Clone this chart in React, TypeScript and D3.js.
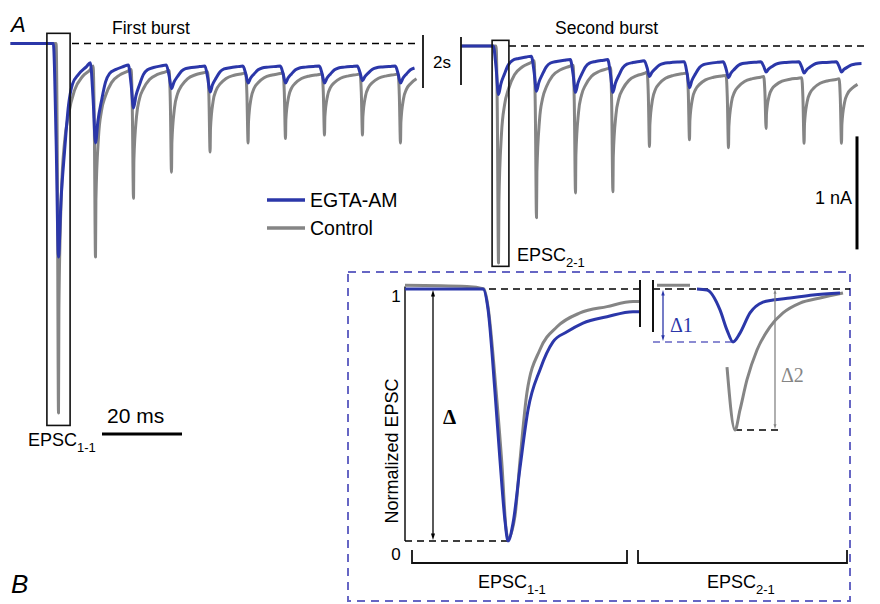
import React from "react";
import * as d3 from "d3";

type Pt = [number, number];

// peak times of the EPSCs in each burst, ms from the first peak
const burst1Times = [0, 9.25, 18.75, 28.25, 37.9, 47.4, 56.75, 66.5, 76, 85.5];
const burst2Times = [0, 9.5, 19.25, 28.6, 37.75, 47.75, 57.5, 66.9, 76.4, 85.75];

// peak amplitudes, nA
const ctrlPeaks1 = [3.27, 1.89, 1.37, 1.14, 0.96, 0.88, 0.84, 0.81, 0.81, 0.88];
const egtaPeaks1 = [1.89, 0.88, 0.57, 0.4, 0.43, 0.35, 0.35, 0.35, 0.33, 0.35];
const ctrlPeaks2 = [1.92, 1.52, 1.3, 1.29, 0.89, 0.83, 0.9, 0.73, 0.86, 0.86];
const egtaPeaks2 = [0.43, 0.4, 0.41, 0.41, 0.27, 0.37, 0.28, 0.23, 0.24, 0.23];

// level each EPSC decays back to before the next one, nA
const ctrlRest1 = [0.2, 0.23, 0.24, 0.25, 0.26, 0.26, 0.27, 0.27, 0.27, 0.27];
const egtaRest1 = [0.17, 0.19, 0.19, 0.2, 0.2, 0.2, 0.2, 0.2, 0.2, 0.2];
const ctrlRest2 = [0.13, 0.17, 0.19, 0.23, 0.24, 0.26, 0.27, 0.28, 0.29, 0.3];
const egtaRest2 = [0.09, 0.12, 0.12, 0.13, 0.14, 0.14, 0.14, 0.14, 0.14, 0.15];

// EPSC waveform: [ms from peak, fraction of peak]
const ctrlShape: Pt[] = [[-0.6, 0], [-0.3, 0.3], [0, 1], [0.1, 0.7], [0.75, 0.36], [1.5, 0.22], [2.5, 0.14], [4, 0.07], [6, 0.03], [8, 0.01]];
const egtaShape: Pt[] = [[-1.3, 0], [-0.6, 0.45], [0, 1], [0.6, 0.72], [1.5, 0.46], [2.5, 0.22], [3.5, 0.11], [5, 0.06], [7, 0.02], [8.5, 0]];

// panel B, normalised EPSCs: [ms from peak, normalised amplitude]
const egtaB1: Pt[] = [[-5.15, 1], [-1.25, 1], [-1.0, 0.92], [-0.65, 0.59], [-0.4, 0.32], [-0.15, 0.08], [0, 0], [0.25, 0.07], [0.6, 0.29], [1.0, 0.52], [1.6, 0.68], [2.25, 0.79], [2.95, 0.83], [3.75, 0.865], [4.95, 0.89], [6.25, 0.91], [6.6, 0.91]];
const ctrlB1: Pt[] = [[-5.15, 1.015], [-2.05, 1.01], [-1.2, 1], [-1.0, 0.93], [-0.6, 0.6], [-0.3, 0.3], [-0.1, 0.05], [0, 0.01], [0.35, 0.1], [0.6, 0.32], [0.95, 0.59], [1.6, 0.76], [2.45, 0.85], [3.6, 0.905], [4.95, 0.93], [6.25, 0.95], [6.6, 0.95]];
const egtaB2: Pt[] = [[-1.8, 1], [-1.3, 0.996], [-0.65, 0.917], [-0.3, 0.837], [0, 0.79], [0.35, 0.825], [0.85, 0.905], [1.5, 0.948], [2.0, 0.956], [2.85, 0.964], [4.0, 0.976], [5.35, 0.984]];
const ctrlB2Base: Pt[] = [[-3.8, 1.015], [-2.15, 1.015]];
const ctrlB2: Pt[] = [[-0.3, 0.69], [0.1, 0.44], [0.35, 0.52], [0.7, 0.64], [1.2, 0.758], [1.85, 0.85], [2.5, 0.905], [3.35, 0.944], [4.35, 0.964], [5.5, 0.984]];

const BLUE = "#2b37a9";
const GRAY = "#858585";
const FRAME = "#6666c4";
const SANS = "'Liberation Sans', Arial, sans-serif";
const SERIF = "'Liberation Serif', 'Times New Roman', serif";

function burstTrace(times: number[], peaks: number[], rests: number[], shape: Pt[], t0: number, t1: number): Pt[] {
  const pts: Pt[] = [[t0, 0]];
  times.forEach((t, i) => {
    const from = i === 0 ? 0 : rests[i - 1];
    const nextStart = i < times.length - 1 ? times[i + 1] + shape[0][0] : t1 + 0.01;
    shape.forEach(([dt, f]) => {
      const tt = t + dt;
      if (tt >= nextStart || tt > t1) return;
      const base = dt <= 0 ? from : rests[i];
      pts.push([tt, base + (peaks[i] - base) * f]);
    });
  });
  return pts;
}

function Arrow({ x, y1, y2, color, head = 4 }: { x: number; y1: number; y2: number; color: string; head?: number }) {
  return (
    <g stroke={color} fill={color}>
      <line x1={x} x2={x} y1={y1 + head} y2={y2 - head} strokeWidth={1.3} />
      <path d={`M${x},${y1} L${x - head / 2},${y1 + head * 1.6} L${x + head / 2},${y1 + head * 1.6} Z`} stroke="none" />
      <path d={`M${x},${y2} L${x - head / 2},${y2 - head * 1.6} L${x + head / 2},${y2 - head * 1.6} Z`} stroke="none" />
    </g>
  );
}

export default function App() {
  // panel A scales: ms -> px, nA -> px (downward currents)
  const x1 = d3.scaleLinear().domain([0, 1]).range([58.5, 62.5]);
  const x2 = d3.scaleLinear().domain([0, 1]).range([498.5, 502.5]);
  const y1 = d3.scaleLinear().domain([0, 1]).range([43.5, 156.5]);
  const y2 = d3.scaleLinear().domain([0, 1]).range([46, 159]);

  const line1 = d3.line<Pt>().x((d) => x1(d[0])).y((d) => y1(d[1])).curve(d3.curveMonotoneX);
  const line2 = d3.line<Pt>().x((d) => x2(d[0])).y((d) => y2(d[1])).curve(d3.curveMonotoneX);

  const ctrl1 = burstTrace(burst1Times, ctrlPeaks1, ctrlRest1, ctrlShape, -12, 90.4);
  const egta1 = burstTrace(burst1Times, egtaPeaks1, egtaRest1, egtaShape, -12, 90.4);
  const ctrl2 = burstTrace(burst2Times, ctrlPeaks2, ctrlRest2, ctrlShape, -9.4, 91.6);
  const egta2 = burstTrace(burst2Times, egtaPeaks2, egtaRest2, egtaShape, -9.4, 91.6);

  // panel B scales
  const xb1 = d3.scaleLinear().domain([0, 1]).range([508, 528]);
  const xb2 = d3.scaleLinear().domain([0, 1]).range([733, 753]);
  const yb = d3.scaleLinear().domain([0, 1]).range([541, 289]);
  const lineB1 = d3.line<Pt>().x((d) => xb1(d[0])).y((d) => yb(d[1])).curve(d3.curveMonotoneX);
  const lineB2 = d3.line<Pt>().x((d) => xb2(d[0])).y((d) => yb(d[1])).curve(d3.curveMonotoneX);

  const egtaMin2 = d3.min(egtaB2, (d) => d[1]) as number;
  const ctrlMin2 = d3.min(ctrlB2, (d) => d[1]) as number;
  const ctrlPeakT2 = ctrlB2.find((d) => d[1] === ctrlMin2)![0];
  const egtaPeakT2 = egtaB2.find((d) => d[1] === egtaMin2)![0];

  const dash = "7 5";

  return (
    <svg width={864} height={596} style={{ display: "block" }} viewBox="8 8 864 596" fontFamily={SANS}>
      <rect x={0} y={0} width={880} height={604} fill="#fff" />
      {/* panel A */}
      <text x={11} y={32} fontSize={22} fontStyle="italic">A</text>
      <text x={112} y={34} fontSize={17.5}>First burst</text>
      <text x={555} y={34} fontSize={17.5}>Second burst</text>

      <line x1={72} x2={420} y1={y1(0)} y2={y1(0)} stroke="#000" strokeWidth={1.5} strokeDasharray={dash} />
      <line x1={509} x2={865} y1={y2(0)} y2={y2(0)} stroke="#000" strokeWidth={1.5} strokeDasharray={dash} />

      <path d={line1(ctrl1) ?? ""} fill="none" stroke={GRAY} strokeWidth={3} strokeLinejoin="round" />
      <path d={line1(egta1) ?? ""} fill="none" stroke={BLUE} strokeWidth={3} strokeLinejoin="round" />
      <path d={line2(ctrl2) ?? ""} fill="none" stroke={GRAY} strokeWidth={3} strokeLinejoin="round" />
      <path d={line2(egta2) ?? ""} fill="none" stroke={BLUE} strokeWidth={3} strokeLinejoin="round" />

      {/* boxes around EPSC1-1 and EPSC2-1 */}
      <rect x={x1(-2.9)} y={y1(-0.09)} width={x1(2.9) - x1(-2.9)} height={y1(3.38) - y1(-0.09)} fill="none" stroke="#111" strokeWidth={1.6} />
      <rect x={x2(-1.6)} y={y2(-0.05)} width={x2(2.6) - x2(-1.6)} height={y2(1.95) - y2(-0.05)} fill="none" stroke="#111" strokeWidth={1.6} />

      <text x={28} y={446} fontSize={18}>EPSC<tspan fontSize={13} dy={6}>1-1</tspan></text>
      <text x={517} y={261} fontSize={18}>EPSC<tspan fontSize={13} dy={6}>2-1</tspan></text>

      {/* 2 s gap marks */}
      <line x1={423} x2={423} y1={35} y2={88} stroke="#111" strokeWidth={1.8} />
      <line x1={461} x2={461} y1={37} y2={85} stroke="#111" strokeWidth={1.8} />
      <text x={433} y={68} fontSize={17}>2s</text>

      {/* scale bars */}
      <line x1={857} x2={857} y1={y2(0.8)} y2={y2(1.8)} stroke="#000" strokeWidth={3} />
      <text x={852} y={204} fontSize={18} textAnchor="end">1 nA</text>
      <line x1={102} x2={102 + (x1(20) - x1(0))} y1={434} y2={434} stroke="#000" strokeWidth={3} />
      <text x={107} y={423} fontSize={21}>20 ms</text>

      {/* legend */}
      <line x1={267} x2={305} y1={200} y2={200} stroke={BLUE} strokeWidth={3.5} />
      <text x={310} y={207} fontSize={19.5}>EGTA-AM</text>
      <line x1={267} x2={305} y1={228} y2={228} stroke={GRAY} strokeWidth={3.5} />
      <text x={310} y={235} fontSize={19.5}>Control</text>

      {/* panel B */}
      <text x={11} y={593} fontSize={26} fontStyle="italic">B</text>
      <rect x={348} y={272} width={502} height={329} fill="none" stroke={FRAME} strokeWidth={2} strokeDasharray="8 6" />

      <line x1={405} x2={405} y1={yb(1.01)} y2={yb(0)} stroke="#111" strokeWidth={1.5} />
      <text x={396} y={302} fontSize={17} textAnchor="middle">1</text>
      <text x={396} y={560} fontSize={17} textAnchor="middle">0</text>
      <text transform="translate(398,451) rotate(-90)" fontSize={18} textAnchor="middle">Normalized EPSC</text>

      <line x1={405} x2={640} y1={yb(1)} y2={yb(1)} stroke="#000" strokeWidth={1.5} strokeDasharray={dash} />
      <line x1={405} x2={xb1(0)} y1={yb(0)} y2={yb(0)} stroke="#000" strokeWidth={1.5} strokeDasharray={dash} />
      <line x1={653} x2={850} y1={yb(1)} y2={yb(1)} stroke="#000" strokeWidth={1.5} strokeDasharray={dash} />
      <line x1={653} x2={xb2(egtaPeakT2)} y1={yb(egtaMin2)} y2={yb(egtaMin2)} stroke={FRAME} strokeWidth={1.5} strokeDasharray={dash} />
      <line x1={xb2(ctrlPeakT2)} x2={778} y1={yb(ctrlMin2)} y2={yb(ctrlMin2)} stroke="#000" strokeWidth={1.5} strokeDasharray={dash} />

      <path d={lineB1(ctrlB1) ?? ""} fill="none" stroke={GRAY} strokeWidth={3} />
      <path d={lineB1(egtaB1) ?? ""} fill="none" stroke={BLUE} strokeWidth={3} />
      <path d={lineB2(ctrlB2Base) ?? ""} fill="none" stroke={GRAY} strokeWidth={3} />
      <path d={lineB2(ctrlB2) ?? ""} fill="none" stroke={GRAY} strokeWidth={3} />
      <path d={lineB2(egtaB2) ?? ""} fill="none" stroke={BLUE} strokeWidth={3} />

      {/* break */}
      <line x1={640} x2={640} y1={280} y2={327} stroke="#111" strokeWidth={2} />
      <line x1={653} x2={653} y1={280} y2={332} stroke="#111" strokeWidth={2} />

      <Arrow x={433} y1={yb(1) + 1} y2={yb(0) - 1} color="#000" />
      <text x={443} y={424} fontSize={21} fontWeight="bold" fontFamily={SERIF}>Δ</text>
      <Arrow x={663} y1={yb(1) + 1} y2={yb(egtaMin2) - 1} color={BLUE} head={3.5} />
      <text x={670} y={332} fontSize={20} fill={BLUE} fontFamily={SERIF}>Δ1</text>
      <Arrow x={775} y1={yb(1)} y2={yb(ctrlMin2) - 1} color={GRAY} head={3} />
      <text x={781} y={382} fontSize={20} fill={GRAY} fontFamily={SERIF}>Δ2</text>

      {/* brackets */}
      <path d="M412,550 V563 H627 V550" fill="none" stroke="#111" strokeWidth={1.8} />
      <path d="M638,550 V563 H847 V550" fill="none" stroke="#111" strokeWidth={1.8} />
      <text x={478} y={588} fontSize={18}>EPSC<tspan fontSize={13} dy={6}>1-1</tspan></text>
      <text x={707} y={588} fontSize={18}>EPSC<tspan fontSize={13} dy={6}>2-1</tspan></text>
    </svg>
  );
}
